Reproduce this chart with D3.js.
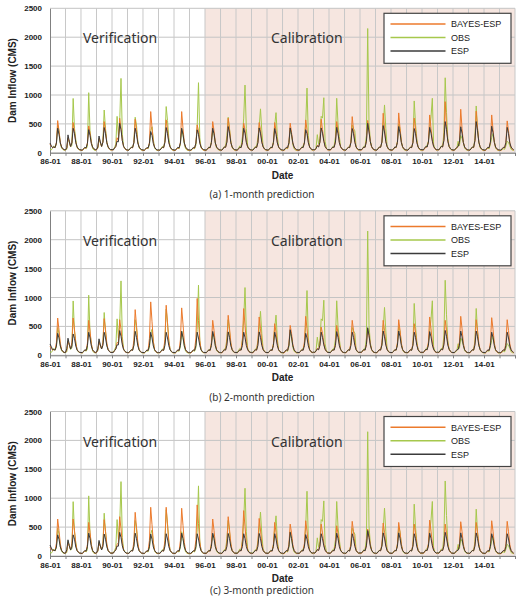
<!DOCTYPE html>
<html>
<head>
<meta charset="utf-8">
<script src="https://cdn.jsdelivr.net/npm/d3@7"></script>
<style>
  body { margin: 0; background: #fff; }
  svg { display: block; }
</style>
</head>
<body>
<svg id="chart"></svg>
<script>
// monthly dam inflow (CMS), one row per year, 1986-01 .. 2015-12
var startYear = 1986, endYear = 2016;

var obs = [
  [60,50,80,120,90,150,480,380,160,80,55,45],
  [50,60,250,180,100,130,940,420,230,90,60,50],
  [45,40,60,90,70,110,1040,380,200,70,50,40],
  [55,80,240,170,110,200,740,420,180,90,70,50],
  [50,60,90,150,630,300,520,1287,320,120,70,55],
  [45,50,70,100,90,180,615,480,200,90,60,45],
  [40,45,60,80,70,140,380,450,230,80,55,40],
  [45,50,70,110,90,220,800,560,260,100,60,45],
  [40,45,60,80,70,150,420,300,150,70,50,40],
  [40,45,55,80,70,130,450,1213,260,90,55,45],
  [45,50,65,100,90,200,380,330,160,80,60,45],
  [45,50,70,110,120,300,615,420,200,90,60,45],
  [50,55,80,120,110,280,600,1172,420,130,70,55],
  [50,55,70,110,100,260,450,760,380,120,70,50],
  [45,50,65,100,90,200,480,695,280,100,60,45],
  [40,45,55,80,70,150,420,300,140,70,50,40],
  [45,50,70,100,120,180,500,1120,300,100,60,45],
  [50,55,80,314,150,250,630,600,953,200,80,55],
  [50,55,75,110,120,280,943,500,280,110,65,50],
  [45,50,65,100,90,200,480,420,380,100,60,45],
  [50,55,70,110,120,300,2150,520,220,100,60,50],
  [45,50,70,100,100,180,450,828,420,120,65,50],
  [45,50,65,100,90,200,500,420,200,90,55,45],
  [45,50,65,100,90,180,897,500,240,100,60,45],
  [45,50,70,110,130,200,420,620,943,150,70,50],
  [50,55,80,120,110,350,1298,700,250,110,65,50],
  [45,50,60,80,200,120,300,250,180,80,55,45],
  [45,50,70,100,90,250,810,420,180,90,60,45],
  [40,45,60,80,70,150,260,330,200,80,55,40],
  [40,45,55,70,60,120,200,180,120,60,45,40]
];

var esp1 = [
  [170,120,90,100,90,170,425,320,170,100,70,55],
  [50,90,310,200,110,170,425,330,175,105,70,55],
  [50,45,70,95,85,165,400,300,160,100,70,55],
  [55,100,290,190,110,180,437,330,175,105,70,55],
  [55,50,80,110,200,190,510,400,210,110,75,55],
  [50,45,70,95,90,175,425,320,170,100,70,55],
  [50,45,65,90,85,160,368,300,160,95,65,50],
  [50,45,70,95,90,180,437,330,175,105,70,55],
  [50,45,70,95,85,170,425,320,170,100,70,55],
  [50,45,70,90,85,165,397,320,165,100,70,55],
  [50,45,70,95,90,175,425,330,170,100,70,55],
  [50,45,70,100,95,185,454,340,175,105,70,55],
  [50,45,70,95,90,175,425,340,180,105,70,55],
  [50,45,70,95,90,175,430,340,180,105,70,55],
  [50,45,70,95,90,175,420,320,170,100,70,55],
  [50,45,70,95,90,175,430,320,170,100,70,55],
  [50,45,70,95,90,170,400,330,175,100,70,55],
  [55,50,75,120,100,180,430,340,200,110,75,55],
  [55,50,75,100,95,185,440,330,175,105,70,55],
  [50,45,70,95,90,175,420,330,180,100,70,55],
  [55,50,75,100,95,200,511,360,190,110,70,55],
  [50,45,70,100,95,185,470,360,190,110,70,55],
  [50,45,70,100,95,180,454,340,175,105,70,55],
  [50,45,70,95,90,175,420,330,175,100,70,55],
  [55,50,80,110,100,185,440,340,200,110,75,55],
  [55,50,80,110,100,210,540,400,200,110,75,55],
  [50,45,70,95,110,180,450,340,175,100,70,55],
  [50,45,70,100,95,210,540,380,185,105,70,55],
  [50,45,70,95,90,185,460,350,180,100,70,55],
  [50,45,70,95,90,180,440,330,170,100,70,55]
];

var bayes1 = [
  [150,110,90,100,90,180,557,380,180,100,65,50],
  [50,80,260,190,110,180,523,370,180,100,65,50],
  [45,40,65,90,80,170,465,340,170,95,65,50],
  [50,90,250,180,110,190,540,380,180,100,65,50],
  [50,50,80,110,260,210,598,430,210,110,70,50],
  [45,45,65,90,85,180,580,400,180,100,65,50],
  [45,40,60,85,80,180,713,430,180,95,60,45],
  [45,45,65,95,85,190,570,400,180,100,65,50],
  [45,40,60,85,80,180,713,420,175,95,60,45],
  [45,40,60,85,80,170,483,380,180,95,60,45],
  [45,45,65,90,85,180,540,380,175,95,65,50],
  [45,45,65,95,95,200,598,400,180,100,65,50],
  [45,45,65,95,90,180,512,400,200,100,65,50],
  [45,45,65,95,90,180,523,400,200,100,65,50],
  [45,45,65,90,85,175,523,380,180,95,65,50],
  [45,40,60,85,80,170,512,350,170,95,60,45],
  [45,45,65,95,90,180,569,400,190,100,65,50],
  [50,50,70,130,100,190,580,400,220,110,70,50],
  [50,45,70,95,95,190,540,380,180,100,65,50],
  [45,45,65,95,90,190,626,400,200,100,65,50],
  [50,45,70,100,95,210,560,400,190,105,65,50],
  [45,45,65,95,95,190,684,430,200,105,65,50],
  [45,45,65,95,90,190,690,420,190,100,65,50],
  [45,45,65,95,90,185,600,410,190,100,65,50],
  [50,45,70,100,100,190,655,420,220,110,70,50],
  [50,50,75,110,100,230,885,460,210,110,70,50],
  [45,45,65,90,110,190,753,420,180,100,65,50],
  [45,45,65,95,90,210,720,430,185,100,65,50],
  [45,40,60,90,85,190,655,400,180,95,60,45],
  [45,40,60,90,85,185,552,380,170,95,60,45]
];

var esp2 = [
  [196,150,100,100,90,160,380,300,160,95,65,50],
  [50,120,296,190,110,160,369,290,160,95,65,50],
  [50,45,70,95,85,165,398,300,160,95,65,50],
  [55,110,285,180,110,170,398,300,165,100,65,50],
  [50,50,80,110,180,180,427,330,180,100,70,50],
  [50,45,70,95,85,170,415,310,165,95,65,50],
  [50,45,65,90,85,165,398,300,160,95,65,50],
  [50,45,70,95,85,170,398,300,165,95,65,50],
  [50,45,70,95,85,170,415,310,165,95,65,50],
  [50,45,70,90,85,165,400,300,165,95,65,50],
  [50,45,70,95,85,170,413,310,165,95,65,50],
  [50,45,70,95,90,175,405,310,165,100,65,50],
  [50,45,70,95,90,170,400,310,170,100,65,50],
  [50,45,70,95,90,170,405,310,170,100,65,50],
  [50,45,70,95,85,170,400,300,165,95,65,50],
  [50,45,70,95,85,175,442,320,165,95,65,50],
  [50,45,70,95,85,165,380,300,165,95,65,50],
  [55,50,75,110,95,170,400,310,180,105,70,50],
  [50,45,70,95,90,170,410,310,165,100,65,50],
  [50,45,70,95,85,170,400,310,170,95,65,50],
  [55,50,75,100,90,185,477,340,175,100,65,50],
  [50,45,70,95,90,175,420,320,175,100,65,50],
  [50,45,70,95,90,175,420,320,170,100,65,50],
  [50,45,70,95,85,170,400,310,170,95,65,50],
  [55,50,75,105,95,175,410,320,180,105,70,50],
  [55,50,75,105,95,180,430,330,175,105,70,50],
  [50,45,70,95,100,175,420,320,170,95,65,50],
  [50,45,70,95,90,175,420,320,170,100,65,50],
  [50,45,70,95,85,170,400,310,165,95,65,50],
  [50,45,70,95,85,170,400,300,160,95,65,50]
];

var bayes2 = [
  [160,120,90,100,90,220,645,440,210,100,65,50],
  [50,90,240,180,110,220,645,440,210,100,65,50],
  [45,40,65,90,85,210,605,420,200,95,60,45],
  [50,95,230,170,110,220,634,440,210,100,65,50],
  [50,50,80,110,220,220,616,450,220,105,65,50],
  [45,45,65,90,90,260,790,520,230,100,65,50],
  [45,40,60,90,85,290,924,580,240,100,60,45],
  [45,45,65,90,85,280,866,560,240,100,65,45],
  [45,40,60,90,85,270,820,540,230,100,60,45],
  [45,40,60,90,85,300,983,600,250,100,60,45],
  [45,45,65,90,85,220,605,430,210,100,65,50],
  [45,45,65,95,95,240,692,470,220,100,65,50],
  [45,45,65,95,90,260,808,520,240,105,65,50],
  [45,45,65,95,90,230,663,460,220,100,65,50],
  [45,45,65,90,85,200,547,400,200,95,65,50],
  [45,40,60,90,85,195,517,380,190,95,60,45],
  [45,45,65,95,90,230,674,460,220,100,65,50],
  [50,50,70,120,100,190,488,380,220,105,65,50],
  [50,45,70,95,90,195,517,390,200,100,65,50],
  [45,45,65,95,90,220,605,430,220,100,65,50],
  [50,45,70,95,90,185,460,360,190,100,65,50],
  [45,45,65,95,90,220,605,430,210,100,65,50],
  [45,45,65,95,90,220,616,430,210,100,65,50],
  [45,45,65,95,90,200,547,400,200,100,65,50],
  [50,45,70,100,95,230,663,460,230,105,65,50],
  [50,45,70,100,95,220,605,440,210,105,65,50],
  [45,45,65,90,110,230,674,460,210,100,65,50],
  [45,45,65,95,90,220,616,430,200,100,65,50],
  [45,40,60,90,85,225,651,450,210,95,60,45],
  [45,40,60,90,85,220,616,430,200,95,60,45]
];

var esp3 = [
  [190,140,100,100,90,155,366,290,155,95,65,50],
  [50,110,280,180,105,155,366,290,155,95,65,50],
  [50,45,70,95,85,160,395,300,160,95,65,50],
  [55,100,270,175,105,160,380,290,160,95,65,50],
  [50,50,80,105,170,170,410,320,175,100,70,50],
  [50,45,70,95,85,165,395,300,160,95,65,50],
  [50,45,65,90,85,160,380,290,155,95,65,50],
  [50,45,70,95,85,165,385,295,160,95,65,50],
  [50,45,70,95,85,165,395,300,160,95,65,50],
  [50,45,70,90,85,160,385,295,160,95,65,50],
  [50,45,70,95,85,165,395,300,160,95,65,50],
  [50,45,70,95,90,165,390,300,160,95,65,50],
  [50,45,70,95,90,165,385,300,165,95,65,50],
  [50,45,70,95,90,165,390,300,165,95,65,50],
  [50,45,70,95,85,165,385,295,160,95,65,50],
  [50,45,70,95,85,170,410,305,160,95,65,50],
  [50,45,70,95,85,160,370,290,160,95,65,50],
  [55,50,75,110,95,165,385,300,175,100,70,50],
  [50,45,70,95,90,165,395,300,160,95,65,50],
  [50,45,70,95,85,165,385,300,165,95,65,50],
  [55,50,75,100,90,175,440,320,170,100,65,50],
  [50,45,70,95,90,170,400,310,170,95,65,50],
  [50,45,70,95,90,170,400,305,165,95,65,50],
  [50,45,70,95,85,165,385,300,160,95,65,50],
  [55,50,75,100,95,170,395,305,175,100,70,50],
  [55,50,75,100,95,170,410,310,170,100,70,50],
  [50,45,70,95,100,170,400,305,165,95,65,50],
  [50,45,70,95,90,170,400,305,165,95,65,50],
  [50,45,70,95,85,165,385,300,160,95,65,50],
  [50,45,70,95,85,165,385,295,155,95,65,50]
];

var bayes3 = [
  [150,120,90,100,90,220,640,440,210,100,65,50],
  [50,90,230,170,110,220,640,440,210,100,65,50],
  [45,40,65,90,85,200,581,410,200,95,60,45],
  [50,90,220,170,110,215,628,430,210,100,65,50],
  [50,50,80,110,200,230,680,470,220,105,65,50],
  [45,45,65,90,90,250,756,500,225,100,65,50],
  [45,40,60,90,85,270,843,540,235,100,60,45],
  [45,45,65,90,85,270,843,540,235,100,65,45],
  [45,40,60,90,85,265,826,530,230,100,60,45],
  [45,40,60,90,85,280,884,560,240,100,60,45],
  [45,45,65,90,85,220,640,440,210,100,65,50],
  [45,45,65,95,95,230,680,460,220,100,65,50],
  [45,45,65,95,90,255,785,510,235,105,65,50],
  [45,45,65,95,90,225,650,450,215,100,65,50],
  [45,45,65,90,85,205,581,410,205,95,65,50],
  [45,40,60,90,85,200,552,400,195,95,60,45],
  [45,45,65,95,90,215,610,430,210,100,65,50],
  [50,50,70,110,100,200,552,400,215,105,65,50],
  [50,45,70,95,90,195,523,390,200,100,65,50],
  [45,45,65,95,90,210,600,420,215,100,65,50],
  [50,45,70,95,90,185,465,360,190,100,65,50],
  [45,45,65,95,90,205,570,410,205,100,65,50],
  [45,45,65,95,90,210,581,410,205,100,65,50],
  [45,45,65,95,90,200,552,400,200,100,65,50],
  [50,45,70,100,95,215,622,430,220,105,65,50],
  [50,45,70,100,95,200,552,400,200,105,65,50],
  [45,45,65,90,105,210,593,420,205,100,65,50],
  [45,45,65,95,90,210,581,410,200,100,65,50],
  [45,40,60,90,85,215,610,430,205,95,60,45],
  [45,40,60,90,85,210,600,420,200,95,60,45]
];

var yTicks = [0, 500, 1000, 1500, 2000, 2500];
var captions = ["(a) 1-month prediction", "(b) 2-month prediction", "(c) 3-month prediction"];
var seriesNames = ["BAYES-ESP", "OBS", "ESP"];
var calibStart = new Date(1996, 0, 1);

var colors = {"BAYES-ESP": "#ec7a2c", "OBS": "#a6c84c", "ESP": "#3b3b3b"};

var svg_width = 526, svg_height = 596;
var svg = d3.select("#chart")
  .attr("width", svg_width)
  .attr("height", svg_height);

var panels = [
  {top: 8.3, bayes: bayes1, esp: esp1, capY: 198},
  {top: 210.8, bayes: bayes2, esp: esp2, capY: 401},
  {top: 411.5, bayes: bayes3, esp: esp3, capY: 593.5}
];
var plot_left = 50, plot_right = 515, plot_height = 144.5;

// turn year rows into {date, value}
function toSeries(rows) {
  var out = [];
  rows.forEach(function(row, yi) {
    row.forEach(function(v, m) {
      out.push({date: new Date(startYear + yi, m, 1), value: v});
    });
  });
  return out;
}

var x = d3.scaleTime()
  .domain([new Date(startYear, 0, 1), new Date(endYear, 0, 1)])
  .range([plot_left, plot_right]);

var years = d3.timeYear.range(new Date(startYear, 0, 1), new Date(endYear, 0, 2));
var fmt = d3.timeFormat("%y-%m");

panels.forEach(function(p, i) {
  var g = svg.append("g");
  var y = d3.scaleLinear().domain([0, 2500]).range([p.top + plot_height, p.top]);

  // calibration shading
  g.append("rect")
    .attr("x", x(calibStart))
    .attr("y", y(2500))
    .attr("width", plot_right - x(calibStart))
    .attr("height", y(0) - y(2500))
    .attr("fill", "#f6e6e0");

  // grid
  g.selectAll(".hgrid").data(yTicks).enter().append("line")
    .attr("x1", plot_left).attr("x2", plot_right)
    .attr("y1", d => y(d)).attr("y2", d => y(d))
    .attr("stroke", "#c4c4c4").attr("stroke-width", 1);
  g.selectAll(".vgrid").data(years.slice(1)).enter().append("line")
    .attr("x1", d => x(d)).attr("x2", d => x(d))
    .attr("y1", y(0)).attr("y2", y(2500))
    .attr("stroke", "#c8c8c8").attr("stroke-width", 1);

  // x axis
  var xAxis = g.append("g")
    .attr("transform", "translate(0," + y(0) + ")")
    .call(d3.axisBottom(x).tickValues(years).tickSize(3).tickPadding(3)
      .tickFormat((d, k) => k % 2 === 0 && k < 30 ? fmt(d) : ""));
  xAxis.select(".domain").attr("stroke", "#808080");
  xAxis.selectAll(".tick line").attr("stroke", "#808080");
  xAxis.selectAll("text")
    .style("font-family", "Liberation Sans, Arial, sans-serif")
    .style("font-size", "8px").style("font-weight", "bold").attr("fill", "#222");

  // y axis
  var yAxis = g.append("g")
    .attr("transform", "translate(" + plot_left + ",0)")
    .call(d3.axisLeft(y).tickValues(yTicks).tickSize(0).tickPadding(8).tickFormat(d3.format("d")));
  yAxis.select(".domain").attr("stroke", "#808080");
  yAxis.selectAll("text")
    .style("font-family", "Liberation Sans, Arial, sans-serif")
    .style("font-size", "8px").style("font-weight", "bold").attr("fill", "#222");

  // lines
  var line = d3.line().x(d => x(d.date)).y(d => y(d.value));
  var data = {"OBS": toSeries(obs), "BAYES-ESP": toSeries(p.bayes), "ESP": toSeries(p.esp)};
  ["OBS", "BAYES-ESP", "ESP"].forEach(function(name) {
    g.append("path")
      .datum(data[name])
      .attr("d", line)
      .attr("fill", "none")
      .attr("stroke", colors[name])
      .attr("stroke-width", 1)
      .attr("stroke-linejoin", "round");
  });

  // period labels
  g.append("text").text("Verification")
    .attr("x", 83).attr("y", p.top + 35)
    .style("font-family", "Noto Sans, sans-serif").style("font-size", "14px").attr("fill", "#333");
  g.append("text").text("Calibration")
    .attr("x", 271).attr("y", p.top + 35)
    .style("font-family", "Noto Sans, sans-serif").style("font-size", "14px").attr("fill", "#333");

  // legend
  var lg = g.append("g").attr("transform", "translate(384," + (p.top + 5) + ")");
  lg.append("rect").attr("width", 127).attr("height", 50)
    .attr("fill", "#fff").attr("stroke", "#444").attr("stroke-width", 1.2);
  seriesNames.forEach(function(name, k) {
    var ly = 10.8 + k * 13.5;
    lg.append("line").attr("x1", 6.5).attr("x2", 61.5).attr("y1", ly).attr("y2", ly)
      .attr("stroke", colors[name]).attr("stroke-width", 1.5);
    lg.append("text").text(name).attr("x", 67).attr("y", ly + 3.2)
      .style("font-family", "Liberation Sans, Arial, sans-serif").style("font-size", "9px").attr("fill", "#222");
  });

  // axis titles
  g.append("text").text("Dam Inflow (CMS)")
    .attr("transform", "translate(16," + (p.top + plot_height / 2) + ") rotate(-90)")
    .attr("text-anchor", "middle")
    .style("font-family", "Liberation Sans, Arial, sans-serif")
    .style("font-size", "10px").style("font-weight", "bold").attr("fill", "#222");
  g.append("text").text("Date")
    .attr("x", (plot_left + plot_right) / 2).attr("y", p.top + 170.5)
    .attr("text-anchor", "middle")
    .style("font-family", "Liberation Sans, Arial, sans-serif")
    .style("font-size", "10px").style("font-weight", "bold").attr("fill", "#222");

  // caption
  g.append("text").text(captions[i])
    .attr("x", 262).attr("y", p.capY)
    .attr("text-anchor", "middle")
    .style("font-family", "Noto Sans, sans-serif").style("font-size", "10px").attr("fill", "#333");
});
</script>
</body>
</html>
